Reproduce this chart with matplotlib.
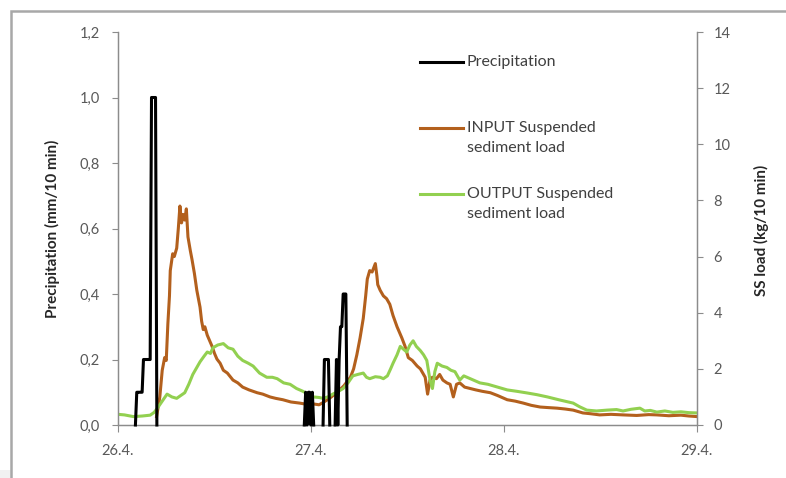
import numpy as np
import matplotlib
matplotlib.use("Agg")
import matplotlib.pyplot as plt
from matplotlib.lines import Line2D
from matplotlib.patches import Rectangle
from matplotlib.ticker import FuncFormatter

plt.rcParams["font.family"] = ["Lato", "DejaVu Sans"]

# ---- data -------------------------------------------------------------
# precipitation, 10-minute steps counted from 26.4. 00:00 (NaN = no rain recorded)
precip_step = [13, 14, 15, 16, 17, 18, 19, 20, 21, 22, 23, 24, 25, 26, 27, 28, 29, np.nan,
               139, 140, 141, 142, 143, 144, 145, 146, np.nan,
               153, 154, 155, 156, 157, 158, np.nan,
               162, 163, 164, 165, 166, 167, 168, 169, 170, 171]
precip_mm = [0.0, 0.1, 0.1, 0.1, 0.1, 0.1, 0.2, 0.2, 0.2, 0.2, 0.2, 0.2, 1.0, 1.0, 1.0, 1.0, 0.0, np.nan,
             0.0, 0.1, 0.0, 0.1, 0.1, 0.0, 0.1, 0.0, np.nan,
             0.0, 0.2, 0.2, 0.2, 0.2, 0.0, np.nan,
             0.0, 0.2, 0.0, 0.2, 0.3, 0.3, 0.4, 0.4, 0.4, 0.0]

# suspended sediment load at the inflow: (hours from 26.4. 00:00, kg/10 min)
input_pts = [
    (4.8, 0.3), (5.2, 1.0), (5.5, 1.95), (5.8, 2.4), (6.0, 2.3), (6.2, 3.6), (6.4, 4.6),
    (6.5, 5.5), (6.8, 6.1), (7.0, 6.0), (7.3, 6.3), (7.5, 7.0), (7.7, 7.8), (7.9, 7.2),
    (8.1, 7.5), (8.3, 7.3), (8.5, 7.7), (8.7, 6.7), (9.0, 6.2), (9.2, 5.9), (9.5, 5.4),
    (9.8, 4.8), (10.0, 4.5), (10.2, 4.2), (10.4, 3.7), (10.6, 3.4), (10.8, 3.5), (11.1, 3.2),
    (11.4, 3.0), (11.7, 2.8), (12.0, 2.55), (12.3, 2.35), (12.7, 2.2), (13.1, 1.95),
    (13.6, 1.85), (14.3, 1.6), (14.9, 1.5), (15.5, 1.35), (16.3, 1.25), (17.3, 1.15),
    (18.0, 1.1), (18.9, 1.0), (19.6, 0.95), (20.5, 0.9), (21.5, 0.82), (22.6, 0.78),
    (23.4, 0.74), (24.3, 0.75), (25.0, 0.72), (25.5, 0.8), (26.3, 0.95), (27.2, 1.15),
    (28.1, 1.4), (28.9, 1.7), (29.3, 2.0), (29.7, 2.5), (30.1, 3.1), (30.5, 3.8),
    (30.8, 4.6), (31.0, 5.2), (31.3, 5.5), (31.6, 5.45), (32.0, 5.75), (32.2, 5.3),
    (32.3, 5.0), (32.6, 4.8), (33.0, 4.6), (33.4, 4.5), (33.8, 4.3), (34.2, 3.9),
    (34.7, 3.5), (35.0, 3.3), (35.3, 3.1), (35.7, 2.8), (36.1, 2.4), (36.6, 2.3),
    (37.2, 2.1), (37.6, 2.0), (37.9, 1.85), (38.2, 1.7), (38.5, 1.1), (38.8, 1.6),
    (39.1, 1.7), (39.6, 1.65), (40.0, 1.8), (40.4, 1.6), (40.9, 1.5), (41.3, 1.45),
    (41.7, 1.0), (42.1, 1.45), (42.5, 1.5), (43.1, 1.35), (43.8, 1.3), (44.5, 1.25),
    (45.3, 1.2), (46.3, 1.15), (47.2, 1.05), (48.4, 0.9), (49.4, 0.85), (50.4, 0.78),
    (51.4, 0.7), (52.5, 0.64), (53.5, 0.62), (54.6, 0.6), (55.6, 0.57), (56.6, 0.53),
    (57.2, 0.48), (57.8, 0.43), (58.8, 0.4), (59.9, 0.36), (61.3, 0.38), (62.8, 0.36),
    (64.5, 0.34), (66.0, 0.37), (67.0, 0.36), (68.5, 0.33), (70.0, 0.35), (71.0, 0.32),
    (72.0, 0.3),
]

# suspended sediment load at the outflow
output_pts = [
    (0.0, 0.38), (0.8, 0.36), (1.9, 0.3), (3.0, 0.32), (4.0, 0.35), (4.5, 0.45), (4.9, 0.6),
    (5.5, 0.85), (6.1, 1.1), (6.7, 1.0), (7.3, 0.95), (7.8, 1.05), (8.3, 1.15), (8.8, 1.45),
    (9.3, 1.8), (9.8, 2.05), (10.2, 2.25), (10.7, 2.45), (11.1, 2.6), (11.5, 2.55),
    (11.8, 2.75), (12.4, 2.85), (13.1, 2.9), (13.7, 2.75), (14.3, 2.7), (14.9, 2.45),
    (15.5, 2.3), (16.2, 2.2), (16.8, 2.1), (17.6, 1.85), (18.5, 1.7), (19.2, 1.7),
    (19.8, 1.65), (20.6, 1.5), (21.4, 1.45), (22.2, 1.3), (23.0, 1.2), (23.6, 1.1),
    (24.3, 1.0), (25.0, 0.98), (25.5, 0.95), (26.1, 1.0), (26.7, 1.1), (27.4, 1.2),
    (28.0, 1.3), (28.6, 1.5), (29.2, 1.75), (29.8, 1.8), (30.5, 1.85), (30.9, 1.7),
    (31.3, 1.65), (32.0, 1.72), (32.6, 1.7), (33.0, 1.65), (33.5, 1.75), (33.9, 2.0),
    (34.2, 2.2), (34.7, 2.5), (35.1, 2.8), (35.5, 2.7), (35.9, 2.6), (36.3, 2.85),
    (36.7, 3.0), (37.1, 2.8), (37.6, 2.65), (38.0, 2.5), (38.4, 2.3), (38.8, 1.6),
    (39.1, 1.3), (39.4, 1.9), (39.7, 2.2), (40.3, 2.1), (40.9, 2.05), (41.4, 1.95),
    (41.9, 1.9), (42.2, 1.75), (42.5, 1.6), (43.0, 1.75), (43.4, 1.7), (44.2, 1.6),
    (45.0, 1.5), (46.0, 1.45), (47.2, 1.35), (48.4, 1.25), (49.6, 1.2), (50.9, 1.14),
    (52.1, 1.08), (53.4, 1.0), (54.8, 0.9), (56.0, 0.82), (56.6, 0.78), (57.4, 0.65),
    (58.3, 0.53), (59.5, 0.5), (60.8, 0.53), (62.0, 0.55), (62.8, 0.5), (63.8, 0.56),
    (64.9, 0.6), (65.5, 0.5), (66.2, 0.52), (67.0, 0.46), (68.0, 0.5), (69.0, 0.45),
    (70.0, 0.47), (71.0, 0.44), (72.0, 0.43),
]

day_ticks_h = [0, 24, 48, 72]
day_labels = ["26.4.", "27.4.", "28.4.", "29.4."]
precip_ticks = [0.0, 0.2, 0.4, 0.6, 0.8, 1.0, 1.2]
load_ticks = [0, 2, 4, 6, 8, 10, 12, 14]

legend_labels = ["Precipitation", "INPUT Suspended\nsediment load", "OUTPUT Suspended\nsediment load"]

# ---- styling ----------------------------------------------------------
W, H = 786, 478
C_PREC = "#000000"
C_IN = "#B3601D"
C_OUT = "#92D050"
C_AXIS = "#8C8C8C"
C_TICK = "#595959"


def fx(px):
    return px / W


def fy(py):
    return 1 - py / H


fig = plt.figure(figsize=(W / 100, H / 100), dpi=100)

# outer chart frame
fig.add_artist(Rectangle((0, 0), 1, fy(470), transform=fig.transFigure,
                         facecolor="#F1F1F1", edgecolor="none", zorder=-3))
fig.add_artist(Rectangle((fx(11), -0.1), 1.2, fy(11) + 0.1, transform=fig.transFigure,
                         facecolor="white", edgecolor="#A8A8A8", linewidth=1.8, zorder=-2))
fig.text(fx(531), fy(-8), "Sampling", ha="right", va="baseline",
         fontsize=27, color="black")

ax = fig.add_axes([fx(118), fy(425), fx(697) - fx(118), fy(32) - fy(425)])
ax2 = ax.twinx()

in_h, in_kg = zip(*input_pts)
out_h, out_kg = zip(*output_pts)
ax2.plot(in_h, in_kg, color=C_IN, linewidth=2.2, zorder=2)
ax2.plot(out_h, out_kg, color=C_OUT, linewidth=2.2, zorder=3)
ax.plot(np.array(precip_step) / 6.0, precip_mm, color=C_PREC, linewidth=2.2,
        zorder=4, clip_on=False)

ax.set_zorder(ax2.get_zorder() + 1)
ax.patch.set_visible(False)
ax2.patch.set_visible(False)

ax.set_xlim(0, 72)
ax.set_ylim(0, 1.2)
ax2.set_ylim(0, 14)

ax.set_xticks(day_ticks_h)
ax.set_xticklabels(day_labels)
ax.set_yticks(precip_ticks)
ax.yaxis.set_major_formatter(FuncFormatter(lambda v, p: f"{v:.1f}".replace(".", ",")))
ax2.set_yticks(load_ticks)

for a in (ax, ax2):
    a.spines["top"].set_visible(False)
    for s in ("left", "right", "bottom"):
        a.spines[s].set_color(C_AXIS)
        a.spines[s].set_linewidth(0.9)
    a.tick_params(direction="out", length=4, width=0.8, color=C_AXIS,
                  labelcolor=C_TICK, labelsize=10.5)
ax.tick_params(axis="y", pad=9)
ax2.tick_params(axis="y", pad=8)
ax.tick_params(axis="x", pad=9, length=5)

fig.text(fx(52), fy(229), "Precipitation (mm/10 min)", rotation=90,
         ha="center", va="center", fontsize=11, fontweight="bold", color="#262626")
fig.text(fx(761), fy(230), "SS load (kg/10 min)", rotation=90,
         ha="center", va="center", fontsize=11, fontweight="bold", color="#262626")

# legend drawn as line samples with labels beside them
leg_rows = [62, 128, 194]
leg_colors = [C_PREC, C_IN, C_OUT]
for row, col, lab in zip(leg_rows, leg_colors, legend_labels):
    fig.add_artist(Line2D([fx(420), fx(463)], [fy(row), fy(row)], color=col,
                          linewidth=2.2, transform=fig.transFigure))
    fig.text(fx(467), fy(row - 7), lab, ha="left", va="top", fontsize=11.5,
             color="#404040", linespacing=1.5)

fig.savefig("out.png", dpi=100)
